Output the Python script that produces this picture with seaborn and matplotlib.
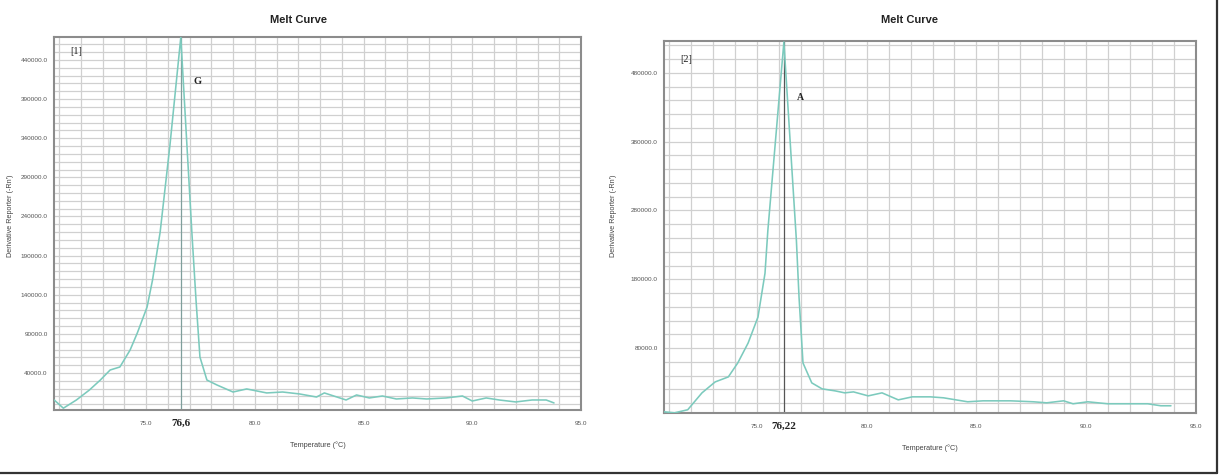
import matplotlib
matplotlib.use("Agg")
import matplotlib.pyplot as plt
import seaborn as sns
import pandas as pd
from matplotlib.ticker import FixedLocator, MultipleLocator, FormatStrFormatter
from matplotlib.lines import Line2D

# ---------------- data ----------------
temp_1 = [70.78, 71.2, 71.8, 72.4, 72.9, 73.35, 73.8, 74.27, 74.6, 75.05, 75.3, 75.65,
          76.1, 76.6, 77.11, 77.3, 77.48, 77.8, 78.26, 79.0, 79.63, 80.55, 81.28, 82.06,
          82.84, 83.2, 84.2, 84.68, 85.27, 85.87, 86.51, 87.25, 87.9, 88.8, 89.55, 90.0,
          90.64, 91.24, 92.0, 92.75, 93.4, 93.76]
deriv_1 = [5500, -5000, 5500, 18300, 31000, 43800, 47700, 69400, 91100, 124300, 158800, 220000,
           331000, 469000, 219000, 133000, 60400, 31000, 24700, 15700, 19600, 14500, 15700, 13200,
           9300, 14500, 5500, 11900, 8100, 10600, 6800, 8100, 6800, 8100, 10600, 4200,
           8100, 5500, 3000, 5500, 5500, 1700]

temp_2 = [70.75, 71.25, 71.85, 72.5, 73.1, 73.7, 74.13, 74.6, 75.05, 75.37, 75.5, 76.23,
          76.8, 76.92, 77.1, 77.5, 77.97, 78.56, 79.0, 79.4, 80.07, 80.7, 81.44, 82.08,
          82.9, 83.5, 84.6, 85.3, 86.55, 87.6, 88.2, 88.97, 89.4, 90.07, 90.98, 91.9,
          92.8, 93.4, 93.86]
deriv_2 = [-12700, -14200, -9800, 14800, 30700, 38000, 58300, 87200, 125000, 188700, 251000, 525000,
           236500, 154000, 58300, 29300, 20600, 17700, 14800, 16200, 10400, 14800, 4600, 9000,
           9000, 7600, 1800, 3200, 3200, 1800, 300, 3200, -1100, 1800, -1100, -1100,
           -1100, -4000, -4000]

x_ticks = [75.0, 80.0, 85.0, 90.0, 95.0]
y_ticks_1 = [40000, 90000, 140000, 190000, 240000, 290000, 340000, 390000, 440000]
y_ticks_2 = [80000, 180000, 280000, 380000, 480000]

panel_titles = ["Melt Curve", "Melt Curve"]
panel_tags = ["[1]", "[2]"]
allele_labels = ["G", "A"]
tm_values = [76.6, 76.22]
tm_labels = ["76,6", "76,22"]
x_label = "Temperature (°C)"
y_label = "Derivative Reporter (-Rn')"

# ---------------- figure ----------------
sns.set_style("white")
plt.rcParams['font.family'] = ['Liberation Sans', 'DejaVu Sans']

fig = plt.figure(figsize=(12.21, 4.75), dpi=100)
ax1 = fig.add_axes([54 / 1221, 1 - 410 / 475, 527 / 1221, 373 / 475])
ax2 = fig.add_axes([664 / 1221, 1 - 413 / 475, 532 / 1221, 372 / 475])

curve_color = "#7ccabd"
grid_color = "#d0d0d0"
serif = ["Liberation Serif", "DejaVu Serif"]

configs = [
    (ax1, temp_1, deriv_1, y_ticks_1, 10000, (-7300, 469400), "#7f9f9c"),
    (ax2, temp_2, deriv_2, y_ticks_2, 20000, (-14500, 526500), "#555555"),
]

for i, (ax, t, d, yt, yminor, ylim, vcol) in enumerate(configs):
    df = pd.DataFrame({"T": t, "D": d})
    sns.lineplot(data=df, x="T", y="D", ax=ax, color=curve_color, lw=1.15, zorder=3)
    ax.set_xlim(70.77, 95.0)
    ax.set_ylim(*ylim)
    ax.xaxis.set_major_locator(FixedLocator(x_ticks))
    ax.xaxis.set_minor_locator(MultipleLocator(1.0))
    ax.yaxis.set_major_locator(FixedLocator(yt))
    ax.yaxis.set_minor_locator(MultipleLocator(yminor))
    ax.xaxis.set_major_formatter(FormatStrFormatter("%.1f"))
    ax.yaxis.set_major_formatter(FormatStrFormatter("%.1f"))
    ax.grid(which="both", color=grid_color, lw=0.9, zorder=0)
    ax.set_axisbelow(True)
    ax.tick_params(axis="x", which="major", labelsize=4.6, labelcolor="#555555",
                   color="#888888", length=3, width=0.6, direction="out", pad=5)
    ax.tick_params(axis="y", which="major", labelsize=4.6, labelcolor="#555555",
                   color="#888888", length=3, width=0.6, direction="out", pad=1.5)
    ax.tick_params(axis="both", which="minor", length=0)
    for s in ax.spines.values():
        s.set_color("#8c8c8c")
        s.set_linewidth(1.5)
    ax.set_xlabel(x_label, fontsize=5.2, color="#444444")
    ax.xaxis.set_label_coords(0.5, -0.085)
    ax.set_ylabel(y_label, fontsize=5.2, color="#444444")
    ax.axvline(tm_values[i], color=vcol, lw=0.9, zorder=2)
    ax.text(tm_values[i], -0.035, tm_labels[i], transform=ax.get_xaxis_transform(),
            ha="center", va="center", fontsize=8, fontweight="bold",
            family=serif, color="#222222")

ax1.yaxis.set_label_coords(-0.075, 0.52)
ax2.yaxis.set_label_coords(-0.088, 0.53)

# panel tags and allele labels
ax1.text(0.043, 0.96, panel_tags[0], transform=ax1.transAxes, fontsize=7.5,
         family=serif, color="#222222", va="center", ha="center")
ax1.text(198 / 1221, 1 - 81 / 475, allele_labels[0], transform=fig.transFigure, fontsize=7.5,
         fontweight="bold", family=serif, color="#222222", ha="center", va="center")
ax2.text(0.042, 0.95, panel_tags[1], transform=ax2.transAxes, fontsize=7.5,
         family=serif, color="#222222", va="center", ha="center")
ax2.text(800 / 1221, 1 - 97 / 475, allele_labels[1], transform=fig.transFigure, fontsize=7,
         fontweight="bold", family=serif, color="#222222", ha="center", va="center")

# titles
fig.text(299 / 1221, 1 - 20 / 475, panel_titles[0], ha="center", va="center",
         fontsize=8, fontweight="bold", color="#222222")
fig.text(910 / 1221, 1 - 20 / 475, panel_titles[1], ha="center", va="center",
         fontsize=8, fontweight="bold", color="#222222")

# outer frame lines (right and bottom)
fig.add_artist(Line2D([0, 1217 / 1221], [1 - 473 / 475, 1 - 473 / 475],
                      transform=fig.transFigure, color="#333333", lw=1.6))
fig.add_artist(Line2D([1217 / 1221, 1217 / 1221], [1 - 473 / 475, 1.0],
                      transform=fig.transFigure, color="#333333", lw=1.6))

fig.savefig("out.png", dpi=100)
